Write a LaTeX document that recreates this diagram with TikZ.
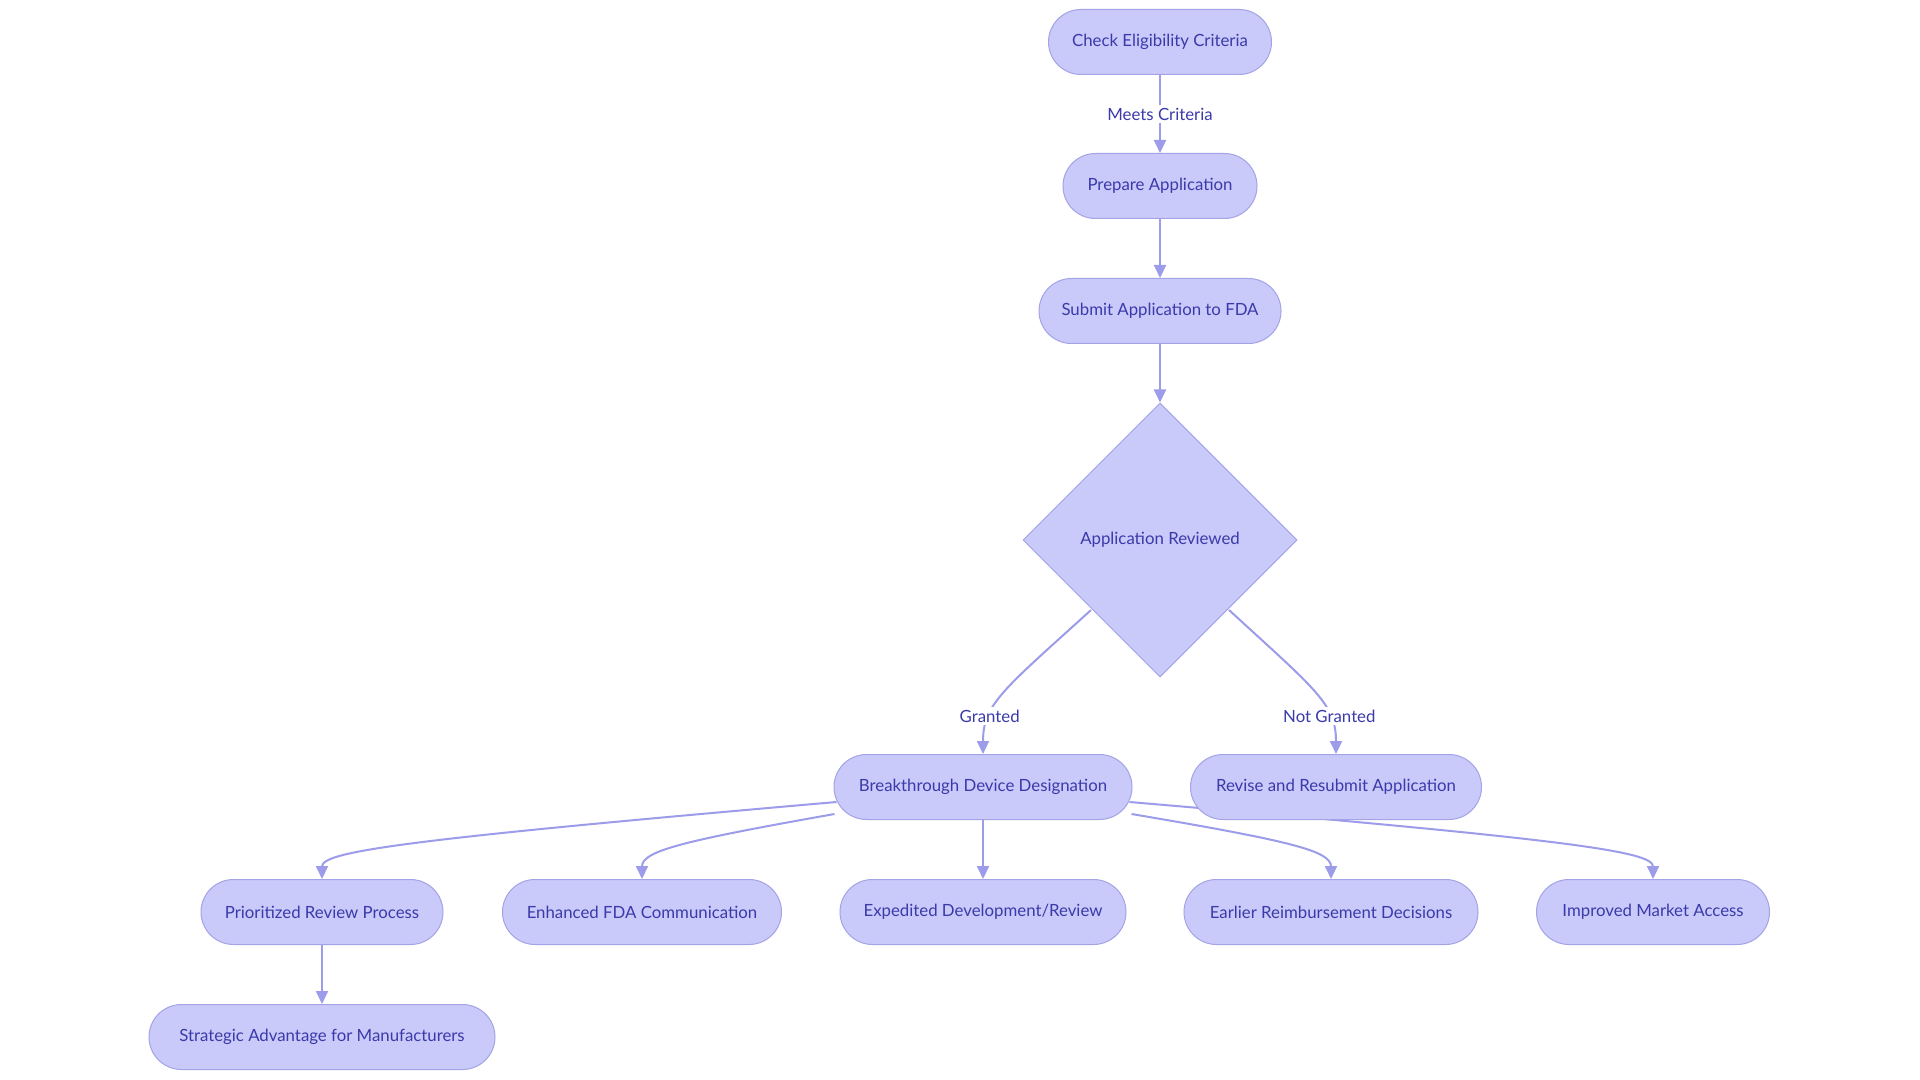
\documentclass[tikz,border=0pt]{standalone}
\usepackage{fontspec}
\setmainfont{Lato}
\usetikzlibrary{shapes.geometric,arrows.meta,calc,backgrounds}
\definecolor{nfill}{HTML}{C9C9FA}
\definecolor{nline}{HTML}{A3A3E6}
\definecolor{ntext}{HTML}{3A3AAA}
\definecolor{eline}{HTML}{9C9CEA}
\tikzset{
  pill/.style={draw=nline, fill=nfill, line width=0.5pt, rounded corners=16.25pt,
    minimum height=32.5pt, inner sep=0pt, text=ntext, font=\fontsize{8.4pt}{10pt}\selectfont},
  decide/.style={diamond, aspect=1, draw=nline, fill=nfill, line width=0.5pt, minimum size=137pt,
    inner sep=0pt, text=ntext, font=\fontsize{8.4pt}{10pt}\selectfont},
  flow/.style={draw=eline, line width=1pt, -{Triangle[length=6.5pt,width=6pt]}},
  elabel/.style={fill=white, text=ntext, inner sep=1.5pt, font=\fontsize{8.4pt}{10pt}\selectfont}
}
\begin{document}
\begin{tikzpicture}[x=0.5pt,y=-0.5pt]
\useasboundingbox (0,0) rectangle (1920,1080);
\node[pill, minimum width=111.5pt] (check) at (1160,42) {Check Eligibility Criteria};
\node[pill, minimum width=97pt] (prep) at (1160,186) {Prepare Application};
\node[pill, minimum width=121pt] (sub) at (1160,311) {Submit Application to FDA};
\node[decide] (rev) at (1160,540) {Application Reviewed};
\node[pill, minimum width=149pt] (bdd) at (983,787) {Breakthrough Device Designation};
\node[pill, minimum width=145.5pt] (resub) at (1336,787) {Revise and Resubmit Application};
\node[pill, minimum width=121pt] (prio) at (322,912) {Prioritized Review Process};
\node[pill, minimum width=139.5pt] (enh) at (642,912) {Enhanced FDA Communication};
\node[pill, minimum width=143pt] (exp) at (983,912) {Expedited Development/Review};
\node[pill, minimum width=147pt] (earl) at (1331,912) {Earlier Reimbursement Decisions};
\node[pill, minimum width=116.5pt] (impr) at (1653,912) {Improved Market Access};
\node[pill, minimum width=173pt] (strat) at (322,1037) {Strategic Advantage for Manufacturers};
\begin{scope}[on background layer]
\fill[white] (0,0) rectangle (1920,1080);
\draw[flow] (check) -- node[elabel] {Meets Criteria} (prep);
\draw[flow] (prep) -- (sub);
\draw[flow] (sub) -- (rev);
\draw[flow] ($(rev.center)+(-69,70)$) .. controls ($(bdd.north)+(20,-64)$) and ($(bdd.north)+(0,-50)$) .. node[elabel, pos=0.7] {Granted} (bdd.north);
\draw[flow] ($(rev.center)+(69,70)$) .. controls ($(resub.north)+(-20,-64)$) and ($(resub.north)+(0,-50)$) .. node[elabel, pos=0.7] {Not Granted} (resub.north);
\draw[flow] ($(bdd.west)+(3,15)$) .. controls ($(prio.north)+(90,-40)$) and ($(prio.north)+(0,-28)$) .. (prio.north);
\draw[flow] ($(bdd.west)+(1,27)$) .. controls ($(enh.north)+(40,-38)$) and ($(enh.north)+(0,-28)$) .. (enh.north);
\draw[flow] (bdd) -- (exp);
\draw[flow] ($(bdd.east)+(-1,27)$) .. controls ($(earl.north)+(-40,-38)$) and ($(earl.north)+(0,-28)$) .. (earl.north);
\draw[flow] ($(bdd.east)+(-3,15)$) .. controls ($(impr.north)+(-90,-40)$) and ($(impr.north)+(0,-28)$) .. (impr.north);
\draw[flow] (prio) -- (strat);
\end{scope}
\end{tikzpicture}
\end{document}
